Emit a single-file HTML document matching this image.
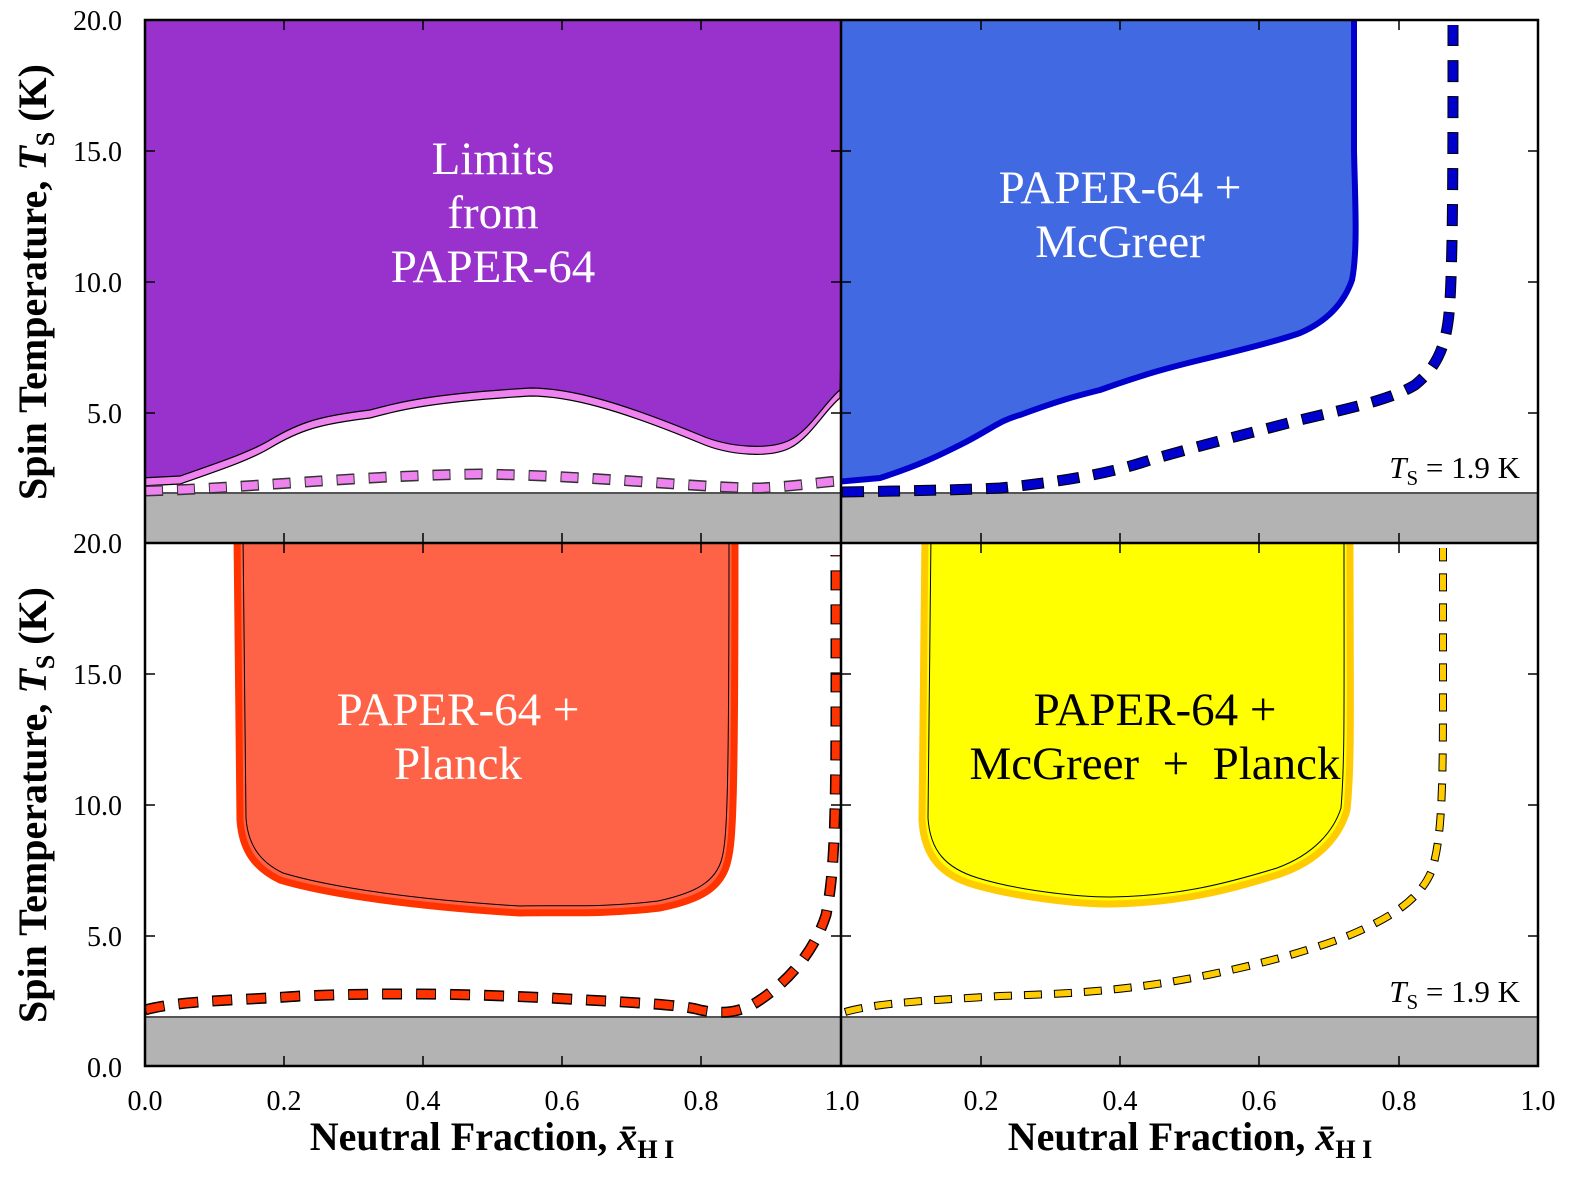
<!DOCTYPE html>
<html><head><meta charset="utf-8"><style>body{margin:0;background:#fff}svg{display:block}</style></head><body>
<svg width="1582" height="1182" viewBox="0 0 1582 1182" font-family="'Liberation Serif',serif">
<defs>
<clipPath id="tl"><rect x="145" y="20" width="696" height="523"/></clipPath>
<clipPath id="tr"><rect x="841" y="20" width="697" height="523"/></clipPath>
<clipPath id="bl"><rect x="145" y="543" width="696" height="523"/></clipPath>
<clipPath id="br"><rect x="841" y="543" width="697" height="523"/></clipPath>
</defs>
<rect width="1582" height="1182" fill="#fff"/>
<!-- grey bands -->
<rect x="145" y="493" width="1393" height="50" fill="#b3b3b3"/>
<line x1="145" y1="493" x2="1538" y2="493" stroke="#555" stroke-width="2"/>
<rect x="145" y="1017" width="1393" height="49" fill="#b3b3b3"/>
<line x1="145" y1="1017" x2="1538" y2="1017" stroke="#555" stroke-width="2"/>

<g clip-path="url(#tl)">
<path d="M140,10 L140,486 L180,484 C220,470 250,460 270,448 C300,430 320,424 370,418 C400,410 430,402 530,396 C570,396 620,410 700,443 C730,456 770,458 790,448 C810,438 825,410 840,398 L850,10 Z" fill="#ee82ee" stroke="#000" stroke-width="1.2"/>
<path d="M140,10 L140,478 L180,476 C220,462 250,452 270,440 C300,422 320,416 370,410 C400,402 430,394 530,388 C570,388 620,402 700,435 C730,448 770,450 790,440 C810,430 825,402 840,390 L850,10 Z" fill="#9932cc" stroke="#000" stroke-width="1.2"/>
<path d="M145,491 C250,488 350,476 480,474 C600,476 700,488 760,488 C800,486 820,482 840,481" fill="none" stroke="#333" stroke-width="11" stroke-dasharray="18,14"/>
<path d="M145,491 C250,488 350,476 480,474 C600,476 700,488 760,488 C800,486 820,482 840,481" fill="none" stroke="#ee82ee" stroke-width="8" stroke-dasharray="16,16" stroke-dashoffset="-1"/>
</g>
<text x="493" y="174" font-size="47" fill="#fff" text-anchor="middle">Limits</text>
<text x="493" y="228" font-size="47" fill="#fff" text-anchor="middle">from</text>
<text x="493" y="282" font-size="47" fill="#fff" text-anchor="middle">PAPER-64</text>

<g clip-path="url(#tr)">
<path d="M835,10 L835,482 L880,478 C920,465 940,455 960,445 C990,430 1000,420 1020,415 C1060,400 1080,395 1100,390 C1150,372 1180,365 1200,360 C1250,348 1280,340 1300,333 C1330,320 1345,300 1352,280 C1358,250 1355,200 1354,150 L1354,10 Z" fill="#4169e1" stroke="#0000cd" stroke-width="6"/>
<path d="M842,492 C900,491 960,490 1000,488 C1080,480 1120,470 1150,460 C1220,440 1270,428 1300,420 C1350,408 1390,400 1415,385 C1440,365 1448,340 1450,300 C1453,250 1453,150 1453,25" fill="none" stroke="#000" stroke-width="11" stroke-dasharray="22,14"/>
<path d="M842,492 C900,491 960,490 1000,488 C1080,480 1120,470 1150,460 C1220,440 1270,428 1300,420 C1350,408 1390,400 1415,385 C1440,365 1448,340 1450,300 C1453,250 1453,150 1453,25" fill="none" stroke="#0000cd" stroke-width="9" stroke-dasharray="20,16" stroke-dashoffset="-1"/>
</g>
<text x="1120" y="203" font-size="47" fill="#fff" text-anchor="middle">PAPER-64 +</text>
<text x="1120" y="257" font-size="47" fill="#fff" text-anchor="middle">McGreer</text>
<text x="1520" y="478" font-size="31" text-anchor="end"><tspan font-style="italic">T</tspan><tspan font-size="21" dy="7">S</tspan><tspan dy="-7"> = 1.9 K</tspan></text>

<g clip-path="url(#bl)">
<path d="M237,535 L240,820 C242,850 255,868 280,880 C330,895 420,907 520,913 C560,912 600,915 660,908 C700,900 722,888 728,860 C733,840 735,800 735,535" fill="#ff6347" stroke="#ff3300" stroke-width="7"/>
<path d="M243,535 L246,818 C248,845 260,862 283,873 C333,888 420,900 520,906 C560,905 600,908 658,901 C695,893 716,882 722,858 C727,838 729,800 729,535" fill="none" stroke="#000" stroke-width="1"/>
<path d="M145,1010 C180,1000 250,1000 300,996 C380,993 450,993 550,998 C620,1002 680,1004 700,1010 C720,1014 740,1014 760,1000 C790,980 815,950 826,915 C833,880 836,840 836,700 L836,555" fill="none" stroke="#000" stroke-width="11" stroke-dasharray="20,14"/>
<path d="M145,1010 C180,1000 250,1000 300,996 C380,993 450,993 550,998 C620,1002 680,1004 700,1010 C720,1014 740,1014 760,1000 C790,980 815,950 826,915 C833,880 836,840 836,700 L836,555" fill="none" stroke="#ff3300" stroke-width="8" stroke-dasharray="18,16" stroke-dashoffset="-1"/>
</g>
<text x="458" y="725" font-size="47" fill="#fff" text-anchor="middle">PAPER-64 +</text>
<text x="458" y="779" font-size="47" fill="#fff" text-anchor="middle">Planck</text>

<g clip-path="url(#br)">
<path d="M925,535 L922,820 C924,855 940,875 975,885 C1020,898 1080,904 1110,904 C1180,903 1230,890 1280,874 C1320,860 1340,835 1347,810 C1352,760 1350,700 1350,535" fill="#ffff00" stroke="#ffcc00" stroke-width="7"/>
<path d="M931,535 L928,818 C930,850 945,868 978,878 C1020,891 1080,897 1110,897 C1180,896 1228,883 1277,868 C1315,854 1334,830 1341,808 C1345,760 1344,700 1344,535" fill="none" stroke="#000" stroke-width="1"/>
<path d="M845,1012 C880,1002 940,1000 1000,996 C1060,994 1100,992 1150,985 C1220,975 1300,955 1350,935 C1390,918 1420,900 1432,870 C1441,840 1443,800 1443,700 L1443,548" fill="none" stroke="#000" stroke-width="8" stroke-dasharray="18,12"/>
<path d="M845,1012 C880,1002 940,1000 1000,996 C1060,994 1100,992 1150,985 C1220,975 1300,955 1350,935 C1390,918 1420,900 1432,870 C1441,840 1443,800 1443,700 L1443,548" fill="none" stroke="#ffcc00" stroke-width="6" stroke-dasharray="16,14" stroke-dashoffset="-1"/>
</g>
<text x="1155" y="725" font-size="47" fill="#000" text-anchor="middle">PAPER-64 +</text>
<text x="1155" y="779" font-size="47" fill="#000" text-anchor="middle" xml:space="preserve">McGreer  +  Planck</text>
<text x="1520" y="1002" font-size="31" text-anchor="end"><tspan font-style="italic">T</tspan><tspan font-size="21" dy="7">S</tspan><tspan dy="-7"> = 1.9 K</tspan></text>

<g fill="none" stroke="#000" stroke-width="2.5">
<rect x="145" y="20" width="1393" height="1046"/>
<line x1="841" y1="20" x2="841" y2="1066"/>
<line x1="145" y1="543" x2="1538" y2="543"/>
</g>
<g stroke="#000" stroke-width="1.5">
<line x1="145" y1="151" x2="155" y2="151"/><line x1="145" y1="282" x2="155" y2="282"/><line x1="145" y1="413" x2="155" y2="413"/>
<line x1="145" y1="674" x2="155" y2="674"/><line x1="145" y1="805" x2="155" y2="805"/><line x1="145" y1="936" x2="155" y2="936"/>
<line x1="841" y1="151" x2="851" y2="151"/><line x1="841" y1="282" x2="851" y2="282"/><line x1="841" y1="413" x2="851" y2="413"/>
<line x1="841" y1="674" x2="851" y2="674"/><line x1="841" y1="805" x2="851" y2="805"/><line x1="841" y1="936" x2="851" y2="936"/>
<line x1="831" y1="151" x2="841" y2="151"/><line x1="831" y1="282" x2="841" y2="282"/><line x1="831" y1="413" x2="841" y2="413"/>
<line x1="831" y1="674" x2="841" y2="674"/><line x1="831" y1="805" x2="841" y2="805"/><line x1="831" y1="936" x2="841" y2="936"/>
<line x1="1528" y1="151" x2="1538" y2="151"/><line x1="1528" y1="282" x2="1538" y2="282"/><line x1="1528" y1="413" x2="1538" y2="413"/>
<line x1="1528" y1="674" x2="1538" y2="674"/><line x1="1528" y1="805" x2="1538" y2="805"/><line x1="1528" y1="936" x2="1538" y2="936"/>
<line x1="284" y1="1056" x2="284" y2="1066"/><line x1="423" y1="1056" x2="423" y2="1066"/><line x1="562" y1="1056" x2="562" y2="1066"/><line x1="701" y1="1056" x2="701" y2="1066"/>
<line x1="981" y1="1056" x2="981" y2="1066"/><line x1="1120" y1="1056" x2="1120" y2="1066"/><line x1="1259" y1="1056" x2="1259" y2="1066"/><line x1="1399" y1="1056" x2="1399" y2="1066"/>
<line x1="284" y1="533" x2="284" y2="553"/><line x1="423" y1="533" x2="423" y2="553"/><line x1="562" y1="533" x2="562" y2="553"/><line x1="701" y1="533" x2="701" y2="553"/>
<line x1="981" y1="533" x2="981" y2="553"/><line x1="1120" y1="533" x2="1120" y2="553"/><line x1="1259" y1="533" x2="1259" y2="553"/><line x1="1399" y1="533" x2="1399" y2="553"/>
<line x1="284" y1="20" x2="284" y2="30"/><line x1="423" y1="20" x2="423" y2="30"/><line x1="562" y1="20" x2="562" y2="30"/><line x1="701" y1="20" x2="701" y2="30"/>
<line x1="981" y1="20" x2="981" y2="30"/><line x1="1120" y1="20" x2="1120" y2="30"/><line x1="1259" y1="20" x2="1259" y2="30"/><line x1="1399" y1="20" x2="1399" y2="30"/>
</g>
<g font-size="28" text-anchor="end">
<text x="122" y="30">20.0</text><text x="122" y="161">15.0</text><text x="122" y="292">10.0</text><text x="122" y="423">5.0</text>
<text x="122" y="553">20.0</text><text x="122" y="684">15.0</text><text x="122" y="815">10.0</text><text x="122" y="946">5.0</text><text x="122" y="1077">0.0</text>
</g>
<g font-size="28" text-anchor="middle">
<text x="145" y="1110">0.0</text><text x="284" y="1110">0.2</text><text x="423" y="1110">0.4</text><text x="562" y="1110">0.6</text><text x="701" y="1110">0.8</text>
<text x="842" y="1110">1.0</text><text x="981" y="1110">0.2</text><text x="1120" y="1110">0.4</text><text x="1259" y="1110">0.6</text><text x="1399" y="1110">0.8</text><text x="1538" y="1110">1.0</text>
</g>
<g font-size="40" font-weight="bold" text-anchor="middle">
<text x="492" y="1150">Neutral Fraction, <tspan font-style="italic">x̄</tspan><tspan font-size="26" dy="8">H I</tspan></text>
<text x="1190" y="1150">Neutral Fraction, <tspan font-style="italic">x̄</tspan><tspan font-size="26" dy="8">H I</tspan></text>
<text transform="translate(46,282) rotate(-90)">Spin Temperature, <tspan font-style="italic">T</tspan><tspan font-size="26" dy="8">S</tspan><tspan dy="-8"> (K)</tspan></text>
<text transform="translate(46,805) rotate(-90)">Spin Temperature, <tspan font-style="italic">T</tspan><tspan font-size="26" dy="8">S</tspan><tspan dy="-8"> (K)</tspan></text>
</g>
</svg>
</body></html>
